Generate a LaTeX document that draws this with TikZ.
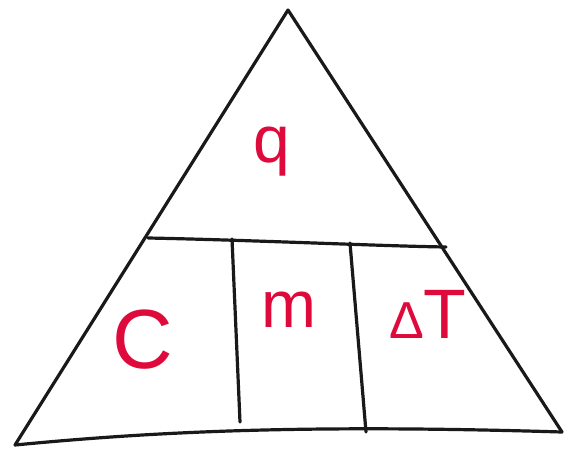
\documentclass[tikz,border=0pt]{standalone}
\usepackage{fontspec}
\setmainfont{Liberation Sans}
\usepackage{tikz}
\usetikzlibrary{positioning}
\definecolor{inkred}{RGB}{222,10,60}

\begin{document}
\begin{tikzpicture}[
    x=1pt, y=-1pt,
    edge/.style={draw=black!90, line width=3.2pt, line cap=round, line join=round},
    letter/.style={text=inkred, inner sep=0pt}
]
\useasboundingbox (0,0) rectangle (572,461);
% corners and dividers
\coordinate (top) at (288,10);
\coordinate (bl)  at (15,445);
\coordinate (br)  at (562,432);
\coordinate (hl)  at (148,238);
\coordinate (hr)  at (446,247);
\coordinate (v1t) at (232,239);
\coordinate (v1b) at (240,422);
\coordinate (v2t) at (350,243);
\coordinate (v2b) at (366,432);
\draw[edge] (bl) -- (top) -- (br);
\draw[edge] (bl) .. controls (150,432) and (300,424) .. (br);
\draw[edge] (hl) .. controls (250,240) and (380,246) .. (hr);
\draw[edge] (v1t) -- (v1b);
\draw[edge] (v2t) -- (v2b);
% quantities
\node[letter, font=\fontsize{66}{66}\selectfont] (nq) at (272,152) {q};
\node[letter, font=\fontsize{84}{84}\selectfont] (nc) at (143,340) {C};
\node[letter, font=\fontsize{66}{66}\selectfont] (nm) at (289,310) {m};
\node[letter, font=\fontsize{70}{70}\selectfont] (ndt) at (428,314) {{\fontsize{52}{52}\selectfont Δ}T};
\end{tikzpicture}
\end{document}
